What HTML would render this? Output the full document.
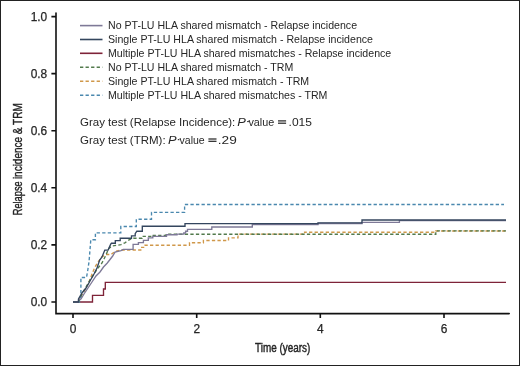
<!DOCTYPE html>
<html><head><meta charset="utf-8">
<style>
html,body{margin:0;padding:0;background:#fff;}
body{width:520px;height:366px;overflow:hidden;position:relative;}
.frame{position:absolute;left:0;top:0;width:518px;height:364px;border:1px solid #222;}
svg{position:absolute;left:0;top:0;will-change:transform;}
text{font-family:"Liberation Sans",sans-serif;fill:#262626;}
</style></head><body>
<div class="frame"></div>
<svg width="520" height="366" viewBox="0 0 520 366">
  <!-- axes -->
  <g stroke="#111" stroke-width="1.6" fill="none">
    <path d="M56 13 V313.6 H509.2" stroke-linecap="round"/>
    <path d="M51.4 16.6 H56 M51.4 73.6 H56 M51.4 130.7 H56 M51.4 187.8 H56 M51.4 244.9 H56 M51.4 302 H56"/>
    <path d="M73 313 V318 M196.7 313 V318 M320.3 313 V318 M444 313 V318"/>
  </g>
  <!-- y tick labels -->
  <g font-size="11.9" text-anchor="end" stroke="#262626" stroke-width="0.25">
    <text x="47.2" y="20.5">1.0</text>
    <text x="47.2" y="77.6">0.8</text>
    <text x="47.2" y="134.7">0.6</text>
    <text x="47.2" y="191.8">0.4</text>
    <text x="47.2" y="248.9">0.2</text>
    <text x="47.2" y="306.0">0.0</text>
  </g>
  <!-- x tick labels -->
  <g font-size="11.9" text-anchor="middle" stroke="#262626" stroke-width="0.25">
    <text x="73" y="332.8">0</text>
    <text x="196.7" y="332.8">2</text>
    <text x="320.3" y="332.8">4</text>
    <text x="444" y="332.8">6</text>
  </g>
  <!-- axis titles -->
  <text x="0" y="0" font-size="13.5" text-anchor="middle" transform="translate(282.7 351.8) scale(0.735 1)" stroke="#222" stroke-width="0.45">Time (years)</text>
  <g transform="translate(21.5 215.3) rotate(-90)" font-size="13.3" stroke="#222" stroke-width="0.4">
    <text x="0" y="0" textLength="34" lengthAdjust="spacingAndGlyphs">Relapse</text>
    <text x="36.2" y="0" textLength="75.8" lengthAdjust="spacingAndGlyphs">incidence &amp; TRM</text>
  </g>

  <!-- legend -->
  <g stroke-width="1.6" fill="none">
    <path d="M80 25.6 H102.5" stroke="#7e7997"/>
    <path d="M80 39.5 H102.5" stroke="#34465e"/>
    <path d="M80 53.3 H102.5" stroke="#7e2338"/>
    <path d="M80 67.3 H102.5" stroke="#527a4c" stroke-dasharray="3.3 2.25"/>
    <path d="M80 81.2 H102.5" stroke="#d0984a" stroke-dasharray="3.3 2.25"/>
    <path d="M80 95.2 H102.5" stroke="#4a88ae" stroke-dasharray="3.3 2.25"/>
  </g>
  <g font-size="10.6">
    <text x="108" y="29.3">No PT-LU HLA shared mismatch - Relapse incidence</text>
    <text x="108" y="43.2">Single PT-LU HLA shared mismatch - Relapse incidence</text>
    <text x="108" y="57.1">Multiple PT-LU HLA shared mismatches - Relapse incidence</text>
    <text x="108" y="71.0">No PT-LU HLA shared mismatch - TRM</text>
    <text x="108" y="84.9">Single PT-LU HLA shared mismatch - TRM</text>
    <text x="108" y="98.8">Multiple PT-LU HLA shared mismatches - TRM</text>
  </g>
  <g font-size="11.5">
    <text x="80" y="125.5">Gray test (Relapse Incidence):</text>
    <text x="237.2" y="125.5" font-style="italic" textLength="8.6" lengthAdjust="spacingAndGlyphs">P</text>
    <rect x="247.2" y="121" width="1.6" height="1.1" fill="#222"/>
    <text x="248.4" y="125.5" textLength="25.8" lengthAdjust="spacingAndGlyphs">value</text>
    <rect x="278" y="120.3" width="8.1" height="1.2" fill="#222"/>
    <rect x="278" y="122.6" width="8.1" height="1.2" fill="#222"/>
    <text x="288.6" y="125.5" textLength="23.4" lengthAdjust="spacingAndGlyphs">.015</text>
    <text x="80" y="143.6">Gray test (TRM):</text>
    <text x="168" y="143.6" font-style="italic" textLength="8.6" lengthAdjust="spacingAndGlyphs">P</text>
    <rect x="177.8" y="139.1" width="1.6" height="1.1" fill="#222"/>
    <text x="179.5" y="143.6" textLength="25.2" lengthAdjust="spacingAndGlyphs">value</text>
    <rect x="208.4" y="138.4" width="8.1" height="1.2" fill="#222"/>
    <rect x="208.4" y="140.7" width="8.1" height="1.2" fill="#222"/>
    <text x="217.8" y="143.6" textLength="19" lengthAdjust="spacingAndGlyphs">.29</text>
  </g>

  <!-- curves -->
  <g fill="none" stroke-width="1.35">
    <!-- red: multiple relapse -->
    <path stroke="#7e2338" d="M73 302 H92.5 V295.3 H103.5 V289 H105.3 V282.4 H506"/>
    <!-- blue dashed: multiple TRM -->
    <path stroke="#4a88ae" stroke-dasharray="3.3 2.25" d="M73 302 H79.5 V297.6 H80.9 V277.5 H86.5 L87.8 270 L89 262 L90.3 246 L90.8 239.7 H95.4 V232.8 H120.8 V226.5 H136.3 V219.2 H151.5 V212.3 H184.6 V204.5 H504"/>
    <!-- orange dashed: single TRM -->
    <path stroke="#d0984a" stroke-dasharray="3.3 2.25" d="M73 302 H78 L81 296 L85 290 L89 282 L92 274 L95 267 L98 262 L102 256.8 L106 254.5 H111 L115 251.5 L121 250 H141.7 V247.3 H145 V245.2 H189.5 V242.7 H203.4 V240.5 H228.5 V237.9 H238 V234.1 H304.6 V232.2 H435.8 V231 H506"/>
    <!-- green dashed: no mm TRM -->
    <path stroke="#527a4c" stroke-dasharray="3.3 2.25" d="M73 302 H78.5 L82 294 L86 287 L90 280 L94 274 L98 268 L102 263 L104 259 L105.8 255.3 L108.8 248.4 L112 246 L116.5 245.4 L121 244.6 L124.9 242.8 L128.2 240.3 L131.5 238.7 L133.5 238.2 H142.1 V236.4 H151.5 V235.3 H166 V234.2 H435.8 V230.9 H506"/>
    <!-- gray: no mm relapse -->
    <path stroke="#7e7997" d="M73 302 H78.5 V300 L81 299 L84 294 L88 288 L92 282 L96 276 L100 272 L103.5 267 L107.3 263 L110.4 259 L112.7 256 L115 252.2 L121 250.7 L123.3 249.3 H133.1 V244.4 H138.4 V242.6 H143.4 V240.3 H148.3 V237.8 H152.8 V236.4 H166.5 V234.7 H177 V234.1 H183.8 V233 H185.6 V231.2 H187.5 V229.4 H211.8 V227 H252.3 V224.5 H318 V223.5 H362 V222.3 H399.4 V220.6 H506"/>
    <!-- navy: single relapse -->
    <path stroke="#34465e" d="M73 302 H78.5 V299 L82 293 L86 288 L90 281 L94 274 L97 268 L99.7 260 L102 257 L104.8 250.1 H108.1 L110.6 244.4 L111.4 243.2 H115.3 V240.6 H120.2 V238.2 H131.5 V235.8 H135.2 V233.7 L136.8 231.2 H142.3 V226.2 H185 V223.6 H318 V222.8 H362 V220 H506"/>
  </g>
</svg>
</body></html>
